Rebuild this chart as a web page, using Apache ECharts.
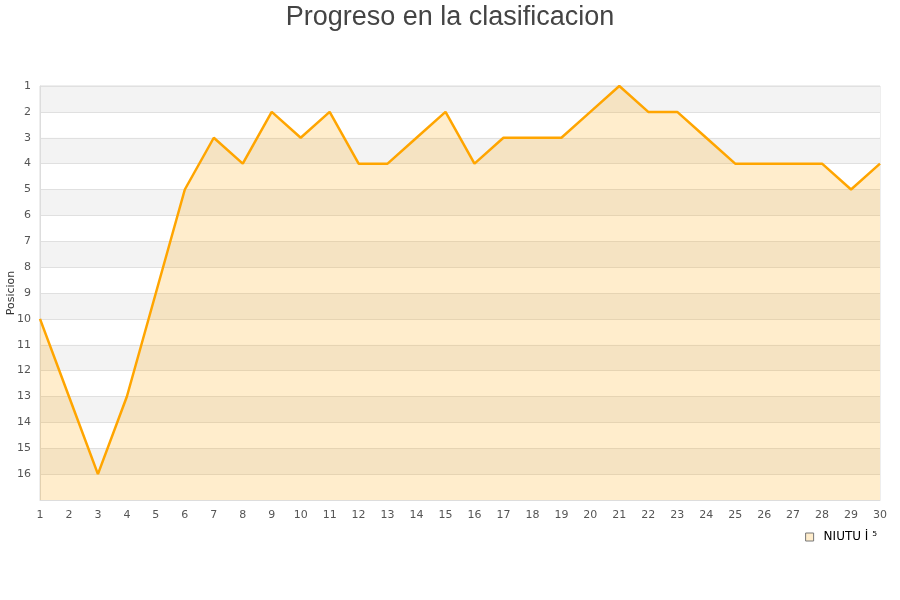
<!DOCTYPE html>
<html>
<head>
<meta charset="utf-8">
<script src="https://cdn.jsdelivr.net/npm/echarts@6/dist/echarts.min.js"></script>
<style>html,body{margin:0;padding:0;background:#fff}#c{width:900px;height:600px}</style>
</head>
<body>
<div id="c"></div>
<script>
const rounds = ['1','2','3','4','5','6','7','8','9','10','11','12','13','14','15','16','17','18','19','20','21','22','23','24','25','26','27','28','29','30'];
const positions = [10,13,16,13,9,5,3,4,2,3,2,4,4,3,2,4,3,3,3,2,1,2,2,3,4,4,4,4,5,4];
const seriesName = 'NIUTU İ ⁵';
const titleText = 'Progreso en la clasificacion';
const yName = 'Posicion';

const chart = echarts.init(document.getElementById('c'));
chart.setOption({
  animation: false,
  title: {
    text: titleText, left: 'center', top: -1,
    textStyle: {fontSize: 27, fontWeight: 'normal', color: '#444', fontFamily: 'Liberation Sans, Arial, sans-serif'}
  },
  legend: {
    right: 18, bottom: 52, icon: 'rect', itemWidth: 8, itemHeight: 8, itemGap: 8,
    textStyle: {fontSize: 12, color: '#000', fontFamily: 'DejaVu Sans', padding: [0, 0, 0, 5]},
    data: [{name: seriesName, itemStyle: {color: '#ffedcc', borderColor: '#777', borderWidth: 1}}]
  },
  grid: {left: 40, right: 20, top: 86, bottom: 100, containLabel: false, outerBoundsMode: 'none',
    show: true, borderColor: '#ddd', borderWidth: 1, backgroundColor: 'transparent'},
  xAxis: {
    type: 'category', data: rounds, boundaryGap: false,
    axisLine: {show: true, lineStyle: {color: '#ddd'}},
    axisTick: {show: false},
    axisLabel: {fontSize: 11, color: '#555', margin: 10, interval: 0, fontFamily: 'DejaVu Sans'},
    splitLine: {show: false}
  },
  yAxis: {
    type: 'value', inverse: true, min: 1, max: 17, interval: 1,
    name: yName, nameLocation: 'middle', nameGap: 23, nameMoveOverlap: false,
    nameTextStyle: {fontSize: 11, color: '#333', fontFamily: 'DejaVu Sans'},
    axisLine: {show: true, lineStyle: {color: '#ddd'}},
    axisTick: {show: false},
    axisLabel: {fontSize: 11, color: '#555', margin: 9, fontFamily: 'DejaVu Sans', padding: [4, 0, 0, 0],
      formatter: v => (v >= 17 ? '' : String(v))},
    splitLine: {show: true, lineStyle: {color: '#e0e0e0'}},
    splitArea: {show: true, areaStyle: {color: ['#f3f3f3', '#ffffff']}}
  },
  series: [{
    name: seriesName, type: 'line', data: positions,
    showSymbol: false, symbol: 'none',
    lineStyle: {color: '#ffa500', width: 2.5},
    itemStyle: {color: '#ffa500'},
    areaStyle: {color: 'rgba(255,165,0,0.2)', opacity: 1, origin: 'end'}
  }]
});
</script>
</body>
</html>
